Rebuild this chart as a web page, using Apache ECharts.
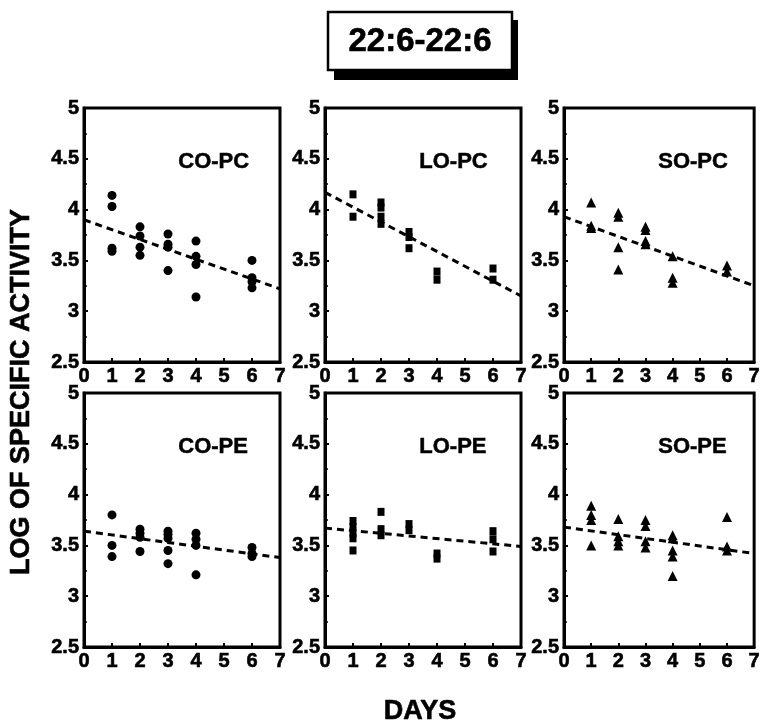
<!DOCTYPE html>
<html>
<head>
<meta charset="utf-8">
<script src="https://cdn.jsdelivr.net/npm/echarts@6/dist/echarts.min.js"></script>
<style>
  html, body { margin: 0; padding: 0; background: #fff; }
  #chart { width: 763px; height: 727px; }
</style>
</head>
<body>
<div id="chart"></div>
<script>
// Log specific activity of 22:6-22:6 species, by diet and phospholipid class
const dayTicks = [0, 1, 2, 3, 4, 5, 6, 7];
const yTickLabels = ['2.5', '3', '3.5', '4', '4.5', '5'];

const coPC = [
  [1, 4.14], [1, 4.03], [1, 3.62], [1, 3.59],
  [2, 3.83], [2, 3.74], [2, 3.63], [2, 3.55],
  [3, 3.76], [3, 3.66], [3, 3.63], [3, 3.40],
  [4, 3.69], [4, 3.54], [4, 3.46], [4, 3.14],
  [6, 3.50], [6, 3.33], [6, 3.29], [6, 3.23]
];
const loPC = [
  [1, 4.15], [1, 3.93],
  [2, 4.07], [2, 4.02], [2, 3.93], [2, 3.86],
  [3, 3.78], [3, 3.73], [3, 3.62],
  [4, 3.39], [4, 3.31],
  [6, 3.42], [6, 3.31]
];
const soPC = [
  [1, 4.07], [1, 3.84], [1, 3.82],
  [2, 3.97], [2, 3.93], [2, 3.63], [2, 3.41],
  [3, 3.83], [3, 3.80], [3, 3.69], [3, 3.66],
  [4, 3.54], [4, 3.33], [4, 3.28],
  [6, 3.45], [6, 3.39]
];
const coPE = [
  [1, 3.80], [1, 3.50], [1, 3.39],
  [2, 3.66], [2, 3.62], [2, 3.58], [2, 3.44],
  [3, 3.64], [3, 3.61], [3, 3.57], [3, 3.45], [3, 3.32],
  [4, 3.62], [4, 3.56], [4, 3.50], [4, 3.21],
  [6, 3.48], [6, 3.42], [6, 3.39]
];
const loPE = [
  [1, 3.74], [1, 3.68], [1, 3.62], [1, 3.57], [1, 3.45],
  [2, 3.83], [2, 3.66], [2, 3.60],
  [3, 3.71], [3, 3.65],
  [4, 3.42], [4, 3.37],
  [6, 3.64], [6, 3.56], [6, 3.44]
];
const soPE = [
  [1, 3.89], [1, 3.80], [1, 3.75], [1, 3.50],
  [2, 3.76], [2, 3.59], [2, 3.54], [2, 3.50],
  [3, 3.75], [3, 3.69], [3, 3.54], [3, 3.48],
  [4, 3.60], [4, 3.57], [4, 3.45], [4, 3.39], [4, 3.20],
  [6, 3.78], [6, 3.49], [6, 3.45]
];

// Fitted regression lines: value at day 0 and at day 7
const coPCFit = [3.90, 3.22];
const loPCFit = [4.17, 3.15];
const soPCFit = [3.93, 3.25];
const coPEFit = [3.64, 3.38];
const loPEFit = [3.67, 3.49];
const soPEFit = [3.68, 3.42];

const panelNames = ['CO-PC', 'LO-PC', 'SO-PC', 'CO-PE', 'LO-PE', 'SO-PE'];

const panels = [
  { name: panelNames[0], pts: coPC, fit: coPCFit, symbol: 'circle', size: 9 },
  { name: panelNames[1], pts: loPC, fit: loPCFit, symbol: 'rect', size: [7, 8] },
  { name: panelNames[2], pts: soPC, fit: soPCFit, symbol: 'triangle', size: 10 },
  { name: panelNames[3], pts: coPE, fit: coPEFit, symbol: 'circle', size: 9 },
  { name: panelNames[4], pts: loPE, fit: loPEFit, symbol: 'rect', size: [7, 8] },
  { name: panelNames[5], pts: soPE, fit: soPEFit, symbol: 'triangle', size: 10 }
];

const FONT = '"Liberation Sans", Arial, Helvetica, sans-serif';
const colLeft = [84, 325, 564];
const rowTop = [108, 393];
const W = 196, H = 254;

// heavy tick-label style (slight outline thickens the bold face)
const tickLabel = {
  show: true, color: '#000', fontFamily: FONT, fontWeight: 'bold', fontSize: 20, margin: 5,
  textBorderColor: '#000', textBorderWidth: 0.6
};

const grids = [], xAxes = [], yAxes = [], series = [], graphics = [];

panels.forEach((p, i) => {
  const c = i % 3, r = Math.floor(i / 3);
  grids.push({
    left: colLeft[c], top: rowTop[r], width: W, height: H,
    show: true, borderColor: '#000', borderWidth: 3, backgroundColor: '#fff'
  });
  xAxes.push({
    type: 'value', gridIndex: i, min: dayTicks[0], max: dayTicks[dayTicks.length - 1], interval: 1,
    axisLine: { show: true, onZero: false, lineStyle: { color: '#000', width: 3 } },
    axisTick: { show: true, inside: true, length: 4, lineStyle: { color: '#000', width: 2 } },
    axisLabel: Object.assign({}, tickLabel, { margin: 4, formatter: v => String(dayTicks[v]) }),
    splitLine: { show: false }
  });
  yAxes.push({
    type: 'value', gridIndex: i, min: 2.5, max: 5, interval: 0.5,
    axisLine: { show: true, onZero: false, lineStyle: { color: '#000', width: 3 } },
    axisTick: { show: true, inside: true, length: 4, lineStyle: { color: '#000', width: 2 } },
    minorTick: { show: true, splitNumber: 2, length: 3, lineStyle: { color: '#000', width: 1.5 } },
    axisLabel: Object.assign({}, tickLabel, {
      formatter: v => yTickLabels[Math.round((v - 2.5) / 0.5)]
    }),
    splitLine: { show: false }
  });
  series.push({
    type: 'line', xAxisIndex: i, yAxisIndex: i, silent: true,
    data: [[dayTicks[0], p.fit[0]], [dayTicks[dayTicks.length - 1], p.fit[1]]],
    symbol: 'none', z: 2,
    lineStyle: { color: '#000', width: 3, type: [7, 5] }
  });
  series.push({
    type: 'scatter', xAxisIndex: i, yAxisIndex: i,
    data: p.pts, symbol: p.symbol, symbolSize: p.size, z: 3,
    itemStyle: { color: '#000', opacity: 1 }
  });
  graphics.push({
    type: 'text', left: colLeft[c] + 94, top: rowTop[r] + 43,
    style: { text: p.name, fill: '#000', font: 'bold 22px ' + FONT, stroke: '#000', lineWidth: 0.5 }
  });
});

// Title box with drop shadow
graphics.push({
  type: 'rect', shape: { x: 334, y: 20, width: 184, height: 60 },
  style: { fill: '#000' }
});
graphics.push({
  type: 'rect', shape: { x: 328, y: 12, width: 184, height: 58 },
  style: { fill: '#fff', stroke: '#000', lineWidth: 2.5 }
});
graphics.push({
  type: 'text', x: 420, y: 42,
  style: { text: '22:6-22:6', fill: '#000', font: 'bold 33px ' + FONT, textAlign: 'center', textVerticalAlign: 'middle', stroke: '#000', lineWidth: 0.6 }
});
// Axis titles
graphics.push({
  type: 'text', x: 22, y: 392, rotation: Math.PI / 2,
  style: { text: 'LOG OF SPECIFIC ACTIVITY', fill: '#000', font: 'bold 27px ' + FONT, textAlign: 'center', textVerticalAlign: 'middle', stroke: '#000', lineWidth: 0.6 }
});
graphics.push({
  type: 'text', x: 420, y: 712,
  style: { text: 'DAYS', fill: '#000', font: 'bold 27px ' + FONT, textAlign: 'center', textVerticalAlign: 'middle', stroke: '#000', lineWidth: 0.6 }
});

const chart = echarts.init(document.getElementById('chart'), null, { renderer: 'canvas' });
chart.setOption({
  animation: false,
  backgroundColor: '#fff',
  grid: grids,
  xAxis: xAxes,
  yAxis: yAxes,
  series: series,
  graphic: graphics
});
</script>
</body>
</html>
